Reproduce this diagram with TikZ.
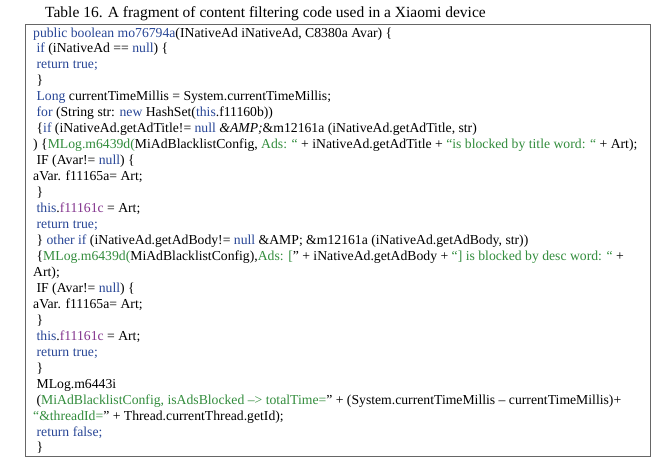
\documentclass[tikz,border=0pt]{standalone}
\usepackage{fontspec}
\setmainfont{Liberation Serif}
\definecolor{kwblue}{RGB}{40,70,150}
\definecolor{strgreen}{RGB}{50,140,60}
\definecolor{fpurple}{RGB}{130,50,140}
\newcommand{\kw}[1]{\textcolor{kwblue}{#1}}
\newcommand{\gr}[1]{\textcolor{strgreen}{#1}}
\newcommand{\pu}[1]{\textcolor{fpurple}{#1}}
\tikzset{
    code/.style={anchor=base west,inner sep=0pt,font=\fontsize{13.7}{14}\selectfont},
    frame/.style={draw=black!60,line width=0.8pt}
}
\begin{document}
\begin{tikzpicture}[x=1pt,y=-1pt]
                \def\lx{33} \def\dy{15.96}
                \useasboundingbox (0,0) rectangle (656,471);
                \node[anchor=base west,inner sep=0pt,font=\fontsize{15.5}{16}\selectfont] (title) at (45,17)
                    {Table 16. A fragment of content filtering code used in a Xiaomi device};
                \draw[frame] (25,24) rectangle (650,456);
                %===========================================
                \node[code] (l1) at (\lx,37) {\kw{public boolean mo76794a}(INativeAd iNativeAd, C8380a Avar) \{};
                \node[code] (l2) at (\lx,37+1*\dy) {\ \kw{if} (iNativeAd == \kw{null}) \{};
                \node[code] (l3) at (\lx,37+2*\dy) {\ \kw{return true;}};
                \node[code] (l4) at (\lx,37+3*\dy) {\ \}};
                \node[code] (l5) at (\lx,37+4*\dy) {\ \kw{Long} currentTimeMillis = System.currentTimeMillis;};
                \node[code] (l6) at (\lx,37+5*\dy) {\ \kw{for} (String str: \kw{new} HashSet(\kw{this}.f11160b))};
                \node[code] (l7) at (\lx,37+6*\dy) {\ \{\kw{if} (iNativeAd.getAdTitle!= \kw{null} \textit{\&AMP;}\&m12161a (iNativeAd.getAdTitle, str)};
                \node[code] (l8) at (\lx,37+7*\dy) {) \{\gr{MLog.m6439d(}MiAdBlacklistConfig, \gr{Ads: “} + iNativeAd.getAdTitle + \gr{“is blocked by title word: “} + Art);};
                \node[code] (l9) at (\lx,37+8*\dy) {\ IF (Avar!= \kw{null}) \{};
                \node[code] (l10) at (\lx,37+9*\dy) {aVar. f11165a= Art;};
                \node[code] (l11) at (\lx,37+10*\dy) {\ \}};
                \node[code] (l12) at (\lx,37+11*\dy) {\ \kw{this}.\pu{f11161c} = Art;};
                \node[code] (l13) at (\lx,37+12*\dy) {\ \kw{return true;}};
                \node[code] (l14) at (\lx,37+13*\dy) {\ \} \kw{other if} (iNativeAd.getAdBody!= \kw{null} \&AMP; \&m12161a (iNativeAd.getAdBody, str))};
                \node[code] (l15) at (\lx,37+14*\dy) {\ \{\gr{MLog.m6439d(}MiAdBlacklistConfig),\gr{Ads: [}” + iNativeAd.getAdBody + \gr{“] is blocked by desc word: “} +};
                \node[code] (l16) at (\lx,37+15*\dy) {Art);};
                \node[code] (l17) at (\lx,37+16*\dy) {\ IF (Avar!= \kw{null}) \{};
                \node[code] (l18) at (\lx,37+17*\dy) {aVar. f11165a= Art;};
                \node[code] (l19) at (\lx,37+18*\dy) {\ \}};
                \node[code] (l20) at (\lx,37+19*\dy) {\ \kw{this}.\pu{f11161c} = Art;};
                \node[code] (l21) at (\lx,37+20*\dy) {\ \kw{return true;}};
                \node[code] (l22) at (\lx,37+21*\dy) {\ \}};
                \node[code] (l23) at (\lx,37+22*\dy) {\ MLog.m6443i};
                \node[code] (l24) at (\lx,37+23*\dy) {\ (\gr{MiAdBlacklistConfig, isAdsBlocked –> totalTime=}” + (System.currentTimeMillis – currentTimeMillis)+};
                \node[code] (l25) at (\lx,37+24*\dy) {\gr{“\&threadId=}” + Thread.currentThread.getId);};
                \node[code] (l26) at (\lx,37+25*\dy) {\ \kw{return false;}};
                \node[code] (l27) at (\lx,37+26*\dy) {\ \}};
\end{tikzpicture}
\end{document}
